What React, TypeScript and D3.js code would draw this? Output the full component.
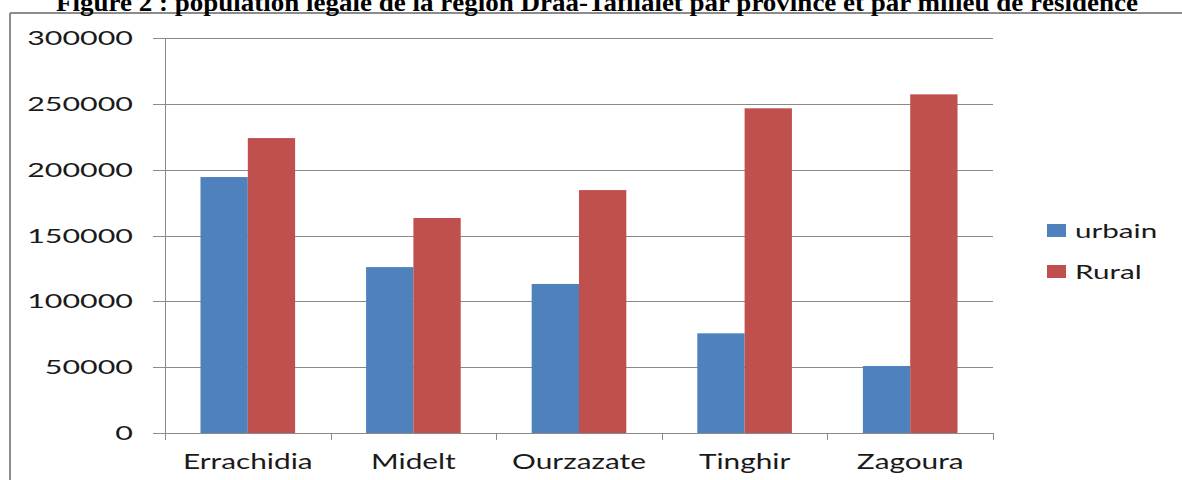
import React from "react";
import * as d3 from "d3";

const categories = ["Errachidia", "Midelt", "Ourzazate", "Tinghir", "Zagoura"];
const urbain = [194400, 126000, 113200, 75700, 50900];
const rural = [224000, 163300, 184500, 246600, 257200];
const seriesNames = ["urbain", "Rural"];
const yTicks = [0, 50000, 100000, 150000, 200000, 250000, 300000];
const title =
  "Figure 2 : population légale de la région Drâa-Tafilalet par province et par milieu de résidence";

const W = 1182;
const H = 480;
const plot = { left: 165, right: 993, top: 38, bottom: 433 };
const colors = ["#4F81BD", "#C0504D"];
const FONT = "Lato, 'Open Sans', sans-serif";

function SText(props: {
  x: number;
  y: number;
  anchor: "start" | "middle" | "end";
  size: number;
  sx: number;
  children: React.ReactNode;
}) {
  return (
    <text
      transform={`translate(${props.x},${props.y}) scale(${props.sx},1)`}
      textAnchor={props.anchor}
      fontFamily={FONT}
      fontSize={props.size}
      fill="#1a1a1a"
    >
      {props.children}
    </text>
  );
}

export default function App() {
  const y = d3.scaleLinear().domain([0, 300000]).range([plot.bottom, plot.top]);
  const x0 = d3
    .scaleBand<string>()
    .domain(categories)
    .range([plot.left, plot.right])
    .paddingInner(0)
    .paddingOuter(0);
  const bw = x0.bandwidth();
  const barW = bw / 3.5;
  const x1 = d3
    .scaleBand<string>()
    .domain(seriesNames)
    .range([(bw - 2 * barW) / 2, (bw + 2 * barW) / 2]);
  const data = [urbain, rural];
  const gridColor = "#8a8a8a";

  return (
    <svg
      width={W}
      height={H}
      style={{ position: "absolute", left: 0, top: 0, background: "#fff" }}
    >
      {/* chart border */}
      <line x1={10} y1={13} x2={W} y2={13} stroke="#8c8c8c" strokeWidth={2} />
      <line x1={10} y1={13} x2={10} y2={H} stroke="#8c8c8c" strokeWidth={2} />

      {/* title */}
      <text
        x={597}
        y={11}
        textAnchor="middle"
        fontFamily="'Liberation Serif', 'Times New Roman', serif"
        fontWeight="bold"
        fontSize={26}
        textLength={1082}
        lengthAdjust="spacingAndGlyphs"
        fill="#000"
      >
        {title}
      </text>

      {/* gridlines + y ticks */}
      {yTicks.map((t) => (
        <g key={t}>
          <line
            x1={plot.left - 12}
            x2={plot.right}
            y1={Math.round(y(t)) + 0.5}
            y2={Math.round(y(t)) + 0.5}
            stroke={gridColor}
            strokeWidth={1}
          />
          <SText x={133} y={y(t) + 7} anchor="end" size={20} sx={1.52}>
            {String(t)}
          </SText>
        </g>
      ))}

      {/* bars */}
      {categories.map((c, i) => (
        <g key={c} transform={`translate(${x0(c)},0)`}>
          {seriesNames.map((s, j) => (
            <rect
              key={s}
              x={x1(s)}
              width={x1.bandwidth()}
              y={y(data[j][i])}
              height={plot.bottom - y(data[j][i])}
              fill={colors[j]}
            />
          ))}
        </g>
      ))}

      {/* axes */}
      <line
        x1={plot.left + 0.5}
        x2={plot.left + 0.5}
        y1={plot.top}
        y2={plot.bottom + 7}
        stroke={gridColor}
      />
      <line
        x1={plot.left - 12}
        x2={plot.right}
        y1={plot.bottom + 0.5}
        y2={plot.bottom + 0.5}
        stroke={gridColor}
      />
      {categories.map((c) => (
        <line
          key={"t" + c}
          x1={Math.round((x0(c) as number) + bw) + 0.5}
          x2={Math.round((x0(c) as number) + bw) + 0.5}
          y1={plot.bottom}
          y2={plot.bottom + 7}
          stroke={gridColor}
        />
      ))}
      {categories.map((c) => (
        <SText
          key={"l" + c}
          x={(x0(c) as number) + bw / 2}
          y={469}
          anchor="middle"
          size={21}
          sx={1.42}
        >
          {c}
        </SText>
      ))}

      {/* legend */}
      {seriesNames.map((s, j) => (
        <g key={"lg" + s}>
          <rect x={1047} y={224 + j * 41} width={19} height={13} fill={colors[j]} />
          <SText x={1075} y={238 + j * 41} anchor="start" size={20} sx={1.48}>
            {s}
          </SText>
        </g>
      ))}
    </svg>
  );
}
